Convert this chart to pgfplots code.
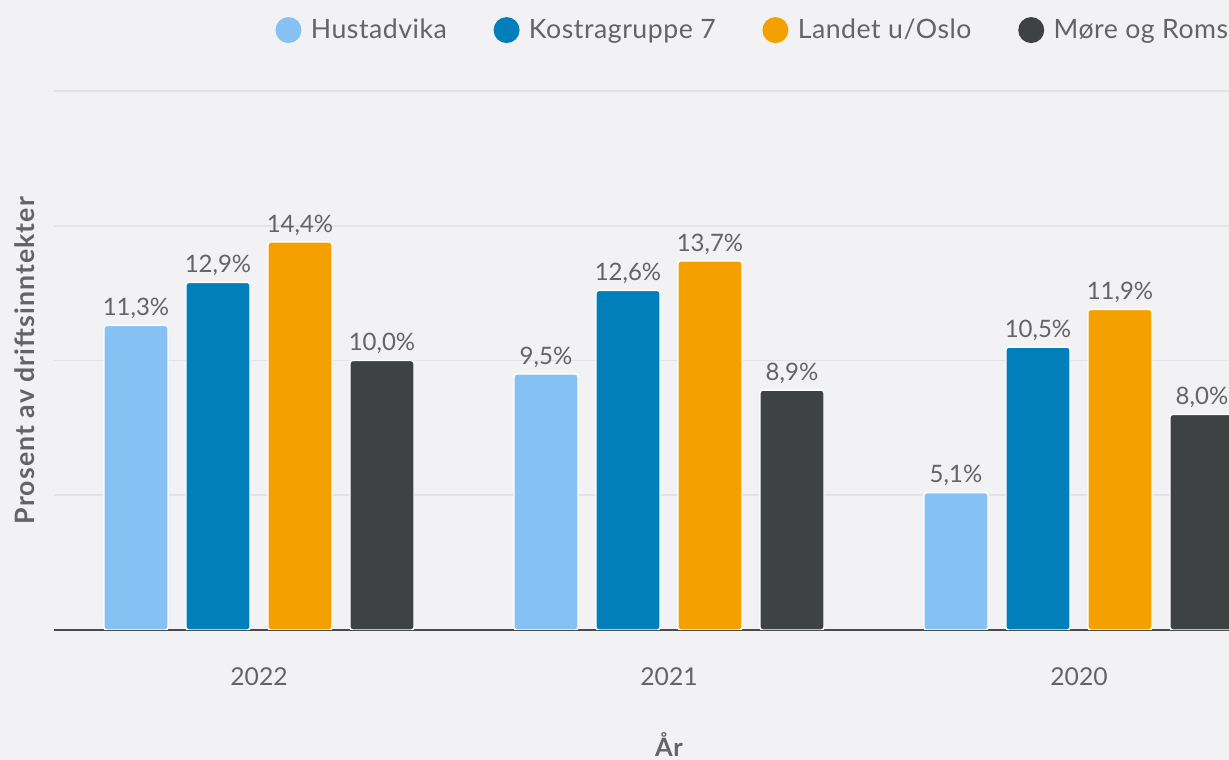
\documentclass[border=0pt]{standalone}
\usepackage{fontspec}
\setmainfont{Lato}
\newfontfamily\wide{Lato}[LetterSpace=2]
\newfontfamily\wider{Lato}[LetterSpace=4]
\usepackage{pgfplots}
\pgfplotsset{compat=1.18}
\definecolor{bg}{HTML}{F2F2F4}
\definecolor{gridc}{HTML}{E3E3E7}
\definecolor{cA}{HTML}{85C1F3}
\definecolor{cB}{HTML}{007FBB}
\definecolor{cC}{HTML}{F4A100}
\definecolor{cD}{HTML}{3E4243}
\definecolor{txt}{HTML}{646464}
\definecolor{base}{HTML}{4B4B4B}
\begin{document}
\begin{tikzpicture}
\useasboundingbox (0pt,0pt) rectangle (921.75pt,570pt);
\clip (0pt,0pt) rectangle (921.75pt,570pt);
\fill[bg] (0pt,0pt) rectangle (921.75pt,570pt);
\begin{axis}[
  at={(40.5pt,97.5pt)}, anchor=south west,
  scale only axis, width=922.5pt, height=404.25pt,
  xmin=-0.5, xmax=2.5, ymin=0, ymax=20,
  ybar=13.5pt, bar width=48pt,
  xtick={0,1,2}, xticklabels={2022,2021,2020},
  ytick={0,5,10,15,20}, yticklabels={},
  ymajorgrids, grid style={gridc, line width=1.2pt},
  axis lines*=left,
  x axis line style={base, line width=1.5pt},
  y axis line style={draw=none},
  major tick length=0pt,
  tick style={draw=none},
  xticklabel style={font=\fontsize{18.5}{22}\selectfont, text=txt, anchor=center, yshift=-35.25pt},
  xlabel={År},
  xlabel style={at={(axis description cs:0.5,-0.212)}, anchor=center, font=\wide\bfseries\fontsize{19}{22}\selectfont, text=txt},
  ylabel={Prosent av driftsinntekter},
  ylabel style={at={(axis description cs:-0.0236,0.5)}, anchor=center, font=\wider\bfseries\fontsize{20}{24}\selectfont, text=txt},
  nodes near coords={\pgfmathprintnumber[fixed,fixed zerofill,precision=1,use comma,assume math mode=true]{\pgfplotspointmeta}\%},
  every node near coord/.append style={font=\fontsize{18}{22}\selectfont, text=txt, yshift=1pt},
  legend columns=4,
  legend style={at={(axis description cs:0.1766,1.113)}, anchor=west, draw=none, fill=none,
    font=\wide\fontsize{20}{24}\selectfont, text=txt,
    /tikz/every even column/.append style={column sep=33pt}},
  legend image code/.code={\fill[#1, draw=none] (9.75pt,0pt) circle (9.75pt); \path (24pt,0pt);},
]
\addplot[fill=cA, draw=white, line width=1.1pt, rounded corners=2pt] coordinates {(0,11.3) (1,9.5) (2,5.1)};
\addplot[fill=cB, draw=white, line width=1.1pt, rounded corners=2pt] coordinates {(0,12.9) (1,12.6) (2,10.5)};
\addplot[fill=cC, draw=white, line width=1.1pt, rounded corners=2pt] coordinates {(0,14.4) (1,13.7) (2,11.9)};
\addplot[fill=cD, draw=white, line width=1.1pt, rounded corners=2pt] coordinates {(0,10.0) (1,8.9) (2,8.0)};
\legend{Hustadvika, Kostragruppe 7, Landet u/Oslo, Møre og Romsdal}
\end{axis}
\end{tikzpicture}
\end{document}
